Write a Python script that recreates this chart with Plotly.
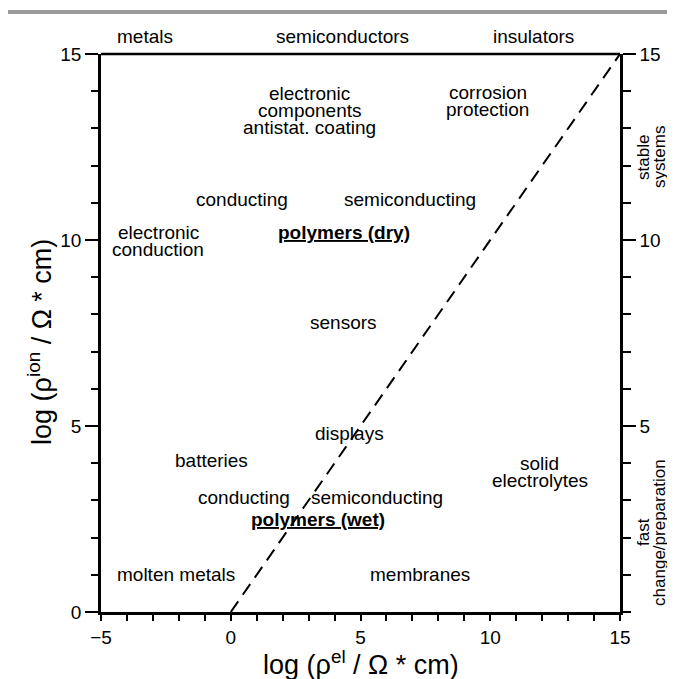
import plotly.graph_objects as go

# --- data ---
line_x = [0, 15]
line_y = [0, 15]

top_labels = ["metals", "semiconductors", "insulators"]
top_x = [-3.3, 4.3, 11.65]

region_texts = [
    "electronic<br>components<br>antistat. coating",
    "corrosion<br>protection",
    "conducting",
    "semiconducting",
    "<u><b>polymers (dry)</b></u>",
    "electronic<br>conduction",
    "sensors",
    "displays",
    "batteries",
    "solid<br>electrolytes",
    "conducting",
    "semiconducting",
    "<u><b>polymers (wet)</b></u>",
    "molten metals",
    "membranes",
]
region_x = [3.05, 9.9, 0.45, 6.9, 4.35, -2.8, 4.33, 4.56, -0.76, 11.9, 0.5, 5.65, 3.35, -2.1, 7.3]
region_y = [13.47, 13.74, 11.08, 11.08, 10.2, 9.96, 7.77, 4.81, 4.06, 3.76, 3.09, 3.09, 2.5, 1.0, 1.0]

side_texts = ["stable<br>systems", "fast<br>change/preparation"]
side_y = [12.23, 2.15]

x_ticks = [-5, 0, 5, 10, 15]
y_ticks = [0, 5, 10, 15]
y2_ticks = [5, 10, 15]

x_title = "log (ρ<sup>el</sup> / Ω * cm)"
y_title = "log (ρ<sup>ion</sup> / Ω * cm)"

FONT = "Liberation Sans, Arial, sans-serif"
LS = 17  # line spacing in px

fig = go.Figure()
fig.add_trace(go.Scatter(x=line_x, y=line_y, mode="lines",
                         line=dict(color="black", width=2, dash="13px,8px"),
                         showlegend=False, hoverinfo="skip"))
fig.add_trace(go.Scatter(x=line_x, y=line_y, mode="lines", yaxis="y2",
                         line=dict(color="rgba(0,0,0,0)", width=0),
                         showlegend=False, hoverinfo="skip"))

for t, x, y in zip(region_texts, region_x, region_y):
    lines = t.split("<br>")
    n = len(lines)
    for i, ln in enumerate(lines):
        fig.add_annotation(x=x, y=y, text=ln, showarrow=False,
                           xanchor="center", yanchor="middle",
                           yshift=((n - 1) / 2 - i) * LS,
                           font=dict(family=FONT, size=19, color="black"))

for t, x in zip(top_labels, top_x):
    fig.add_annotation(x=x, y=1.032, yref="paper", text=t, showarrow=False,
                       xanchor="center", yanchor="middle",
                       font=dict(family=FONT, size=19, color="black"))

for t, y in zip(side_texts, side_y):
    lines = t.split("<br>")
    n = len(lines)
    for i, ln in enumerate(lines):
        fig.add_annotation(x=1.0595, xref="paper", y=y, text=ln, showarrow=False,
                           textangle=-90, xanchor="center", yanchor="middle",
                           xshift=(i - (n - 1) / 2) * 16,
                           font=dict(family=FONT, size=17, color="black"))

# axis titles
fig.add_annotation(x=0.5, xref="paper", y=-0.0914, yref="paper", text=x_title,
                   showarrow=False, xanchor="center", yanchor="middle",
                   font=dict(family=FONT, size=27, color="black"))
fig.add_annotation(x=-0.1175, xref="paper", y=0.484, yref="paper", text=y_title,
                   showarrow=False, xanchor="center", yanchor="middle", textangle=-90,
                   font=dict(family=FONT, size=27, color="black"))

# gray bar at top
fig.add_shape(type="rect", xref="paper", yref="paper",
              x0=-0.181, x1=1.12, y0=1.0717, y1=1.0789,
              fillcolor="#9a9a9a", line=dict(width=0), layer="above")

axis_common = dict(showgrid=False, zeroline=False, showline=True, automargin=False,
                   linecolor="black", linewidth=2.5, ticks="outside",
                   tickcolor="black", tickwidth=2,
                   tickfont=dict(family=FONT, size=19, color="black"))

fig.update_layout(
    width=667, height=671,
    margin=dict(l=93, r=55, t=46, b=67, autoexpand=False),
    paper_bgcolor="white", plot_bgcolor="white",
    showlegend=False,
    xaxis=dict(range=[-5, 15], tickvals=x_ticks, ticklen=6,
               minor=dict(dtick=1, tick0=0, ticklen=6, tickwidth=2, tickcolor="black", ticks="outside"),
               **axis_common),
    yaxis=dict(range=[0, 15], tickvals=y_ticks, ticklen=13,
               minor=dict(dtick=1, tick0=0, ticklen=7, tickwidth=2, tickcolor="black", ticks="outside"),
               **axis_common),
    yaxis2=dict(range=[0, 15], tickvals=y2_ticks, ticklen=13, overlaying="y", side="right",
                minor=dict(dtick=1, tick0=0, ticklen=8, tickwidth=2, tickcolor="black", ticks="outside"),
                **axis_common),
)
fig.add_shape(type="line", xref="paper", yref="paper", x0=0, x1=1, y0=1, y1=1,
              line=dict(color="black", width=2.5))

fig.write_html("out.html")
